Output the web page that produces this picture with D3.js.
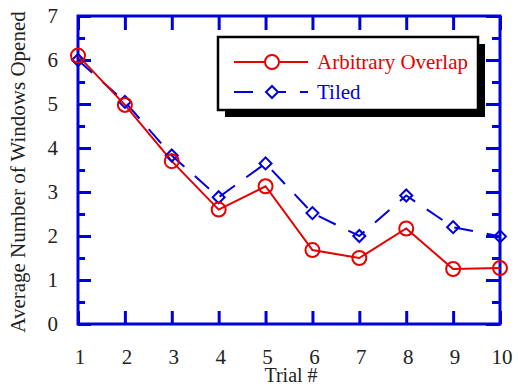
<!DOCTYPE html>
<html>
<head>
<meta charset="utf-8">
<script src="https://cdn.jsdelivr.net/npm/d3@7"></script>
<style>
  body { margin: 0; background: #fff; }
</style>
</head>
<body>
<div id="chart"></div>
<script>
const trials = [1, 2, 3, 4, 5, 6, 7, 8, 9, 10];
const overlap = [6.1, 4.98, 3.7, 2.6, 3.13, 1.68, 1.5, 2.17, 1.25, 1.27];
const tiled = [6.0, 5.05, 3.83, 2.88, 3.65, 2.52, 2.0, 2.92, 2.2, 1.99];
const yTicks = [0, 1, 2, 3, 4, 5, 6, 7];
const seriesNames = ["Arbitrary Overlap", "Tiled"];

const width = 518, height = 387;
const margin = { top: 16, right: 18, bottom: 63, left: 78 };
const w = width - margin.left - margin.right;
const h = height - margin.top - margin.bottom;
const blue = "#0000dd", red = "#e60000";
const serif = "'Liberation Serif', 'Times New Roman', Times, serif";

const svg = d3.select("#chart").append("svg")
  .attr("width", width)
  .attr("height", height)
  .attr("font-family", serif);

const g = svg.append("g")
  .attr("transform", "translate(" + margin.left + "," + margin.top + ")");

const x = d3.scaleLinear().domain([1, 10]).range([0, w]);
const y = d3.scaleLinear().domain([0, 7]).range([h, 0]);

const minor = d3.range(0.5, 7, 1);

// inward ticks on all four sides
// left
g.append("g").call(d3.axisRight(y).tickValues(yTicks).tickSize(13).tickFormat(""))
  .call(s => s.select(".domain").remove());
g.append("g").call(d3.axisRight(y).tickValues(minor).tickSize(7).tickFormat(""))
  .call(s => s.select(".domain").remove());
// right
g.append("g").attr("transform", "translate(" + w + ",0)")
  .call(d3.axisLeft(y).tickValues(yTicks).tickSize(14).tickFormat(""))
  .call(s => s.select(".domain").remove());
g.append("g").attr("transform", "translate(" + w + ",0)")
  .call(d3.axisLeft(y).tickValues(minor).tickSize(8).tickFormat(""))
  .call(s => s.select(".domain").remove());
// bottom / top
g.append("g").attr("transform", "translate(0," + h + ")")
  .call(d3.axisTop(x).tickValues(trials).tickSize(13).tickFormat(""))
  .call(s => s.select(".domain").remove());
g.append("g")
  .call(d3.axisBottom(x).tickValues(trials).tickSize(14).tickFormat(""))
  .call(s => s.select(".domain").remove());

g.selectAll(".tick line").attr("stroke", blue).attr("stroke-width", 3);

// frame
g.append("rect")
  .attr("width", w).attr("height", h)
  .attr("fill", "none").attr("stroke", blue).attr("stroke-width", 3);

// tick labels
g.selectAll(".ylab").data(yTicks).enter().append("text")
  .attr("x", -20).attr("y", d => y(d) + 7)
  .attr("text-anchor", "end")
  .attr("font-size", 21)
  .attr("fill", "#222")
  .text(d => d);

g.selectAll(".xlab").data(trials).enter().append("text")
  .attr("x", d => x(d) + 2).attr("y", h + 40)
  .attr("text-anchor", "middle")
  .attr("font-size", 21)
  .attr("fill", "#222")
  .text(d => d);

svg.append("text")
  .attr("x", 291).attr("y", 382)
  .attr("text-anchor", "middle")
  .attr("font-size", 20)
  .attr("fill", "#222")
  .text("Trial #");

svg.append("text")
  .attr("transform", "translate(25," + (margin.top + h / 2 + 2) + ")rotate(-90)")
  .attr("text-anchor", "middle")
  .attr("font-size", 21)
  .attr("fill", "#222")
  .text("Average Number of Windows Opened");

// series
const line = d3.line().x((d, i) => x(trials[i])).y(d => y(d));

g.append("path").datum(tiled)
  .attr("d", line)
  .attr("fill", "none").attr("stroke", blue).attr("stroke-width", 2)
  .attr("stroke-dasharray", "19,14");

g.append("path").datum(overlap)
  .attr("d", line)
  .attr("fill", "none").attr("stroke", red).attr("stroke-width", 2);

const diamond = d3.symbol().type(d3.symbolSquare).size(72);
g.selectAll(".tiled").data(tiled).enter().append("path")
  .attr("d", diamond)
  .attr("transform", (d, i) => "translate(" + x(trials[i]) + "," + y(d) + ")rotate(45)")
  .attr("fill", "none").attr("stroke", blue).attr("stroke-width", 2);

g.selectAll(".overlap").data(overlap).enter().append("circle")
  .attr("cx", (d, i) => x(trials[i])).attr("cy", d => y(d))
  .attr("r", 7)
  .attr("fill", "none").attr("stroke", red).attr("stroke-width", 2);

// legend
const lg = svg.append("g").attr("transform", "translate(218,37)");
const lw = 260, lh = 73;
lg.append("rect").attr("x", 7).attr("y", 7).attr("width", lw).attr("height", lh).attr("fill", "#000");
lg.append("rect").attr("width", lw).attr("height", lh)
  .attr("fill", "#fff").attr("stroke", "#000").attr("stroke-width", 2.5);

const rows = [
  { name: seriesNames[0], color: red, dash: null, yy: 25 },
  { name: seriesNames[1], color: blue, dash: "19,14", yy: 55 }
];
rows.forEach((r, i) => {
  lg.append("line").attr("x1", 16).attr("x2", 90).attr("y1", r.yy).attr("y2", r.yy)
    .attr("stroke", r.color).attr("stroke-width", 2)
    .attr("stroke-dasharray", r.dash);
  if (i === 0) {
    lg.append("circle").attr("cx", 54).attr("cy", r.yy).attr("r", 7)
      .attr("fill", "#fff").attr("stroke", r.color).attr("stroke-width", 2);
  } else {
    lg.append("path").attr("d", diamond)
      .attr("transform", "translate(54," + r.yy + ")rotate(45)")
      .attr("fill", "#fff").attr("stroke", r.color).attr("stroke-width", 2);
  }
  lg.append("text").attr("x", 99).attr("y", r.yy + 7)
    .attr("font-size", 21).attr("fill", r.color).text(r.name);
});
</script>
</body>
</html>
